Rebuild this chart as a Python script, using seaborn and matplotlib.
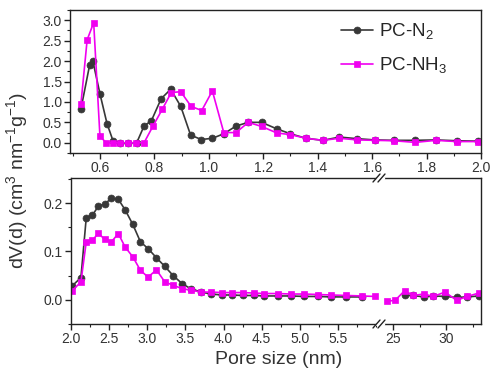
import matplotlib
matplotlib.use("Agg")
import matplotlib.pyplot as plt
from matplotlib.lines import Line2D
from matplotlib.ticker import MultipleLocator, FixedLocator
import seaborn as sns

# top panel (micropores)
n2_top_x = [0.53, 0.562, 0.574, 0.60, 0.626, 0.648, 0.672, 0.703, 0.735, 0.762, 0.789,
            0.825, 0.86, 0.897, 0.933, 0.972, 1.013, 1.055, 1.10, 1.145, 1.194, 1.25,
            1.30, 1.357, 1.419, 1.48, 1.546, 1.61, 1.68, 1.758, 1.835, 1.91, 1.99]
n2_top_y = [0.82, 1.90, 2.00, 1.20, 0.47, 0.05, 0.0, 0.0, 0.0, 0.41, 0.54,
            1.08, 1.31, 0.89, 0.19, 0.08, 0.11, 0.22, 0.41, 0.50, 0.50, 0.34,
            0.22, 0.11, 0.06, 0.14, 0.10, 0.07, 0.06, 0.06, 0.07, 0.05, 0.04]
nh3_top_x = [0.53, 0.553, 0.577, 0.60, 0.623, 0.648, 0.672, 0.703, 0.733, 0.762, 0.795,
             0.829, 0.862, 0.897, 0.935, 0.974, 1.013, 1.055, 1.10, 1.145, 1.194, 1.25,
             1.30, 1.357, 1.419, 1.48, 1.546, 1.61, 1.68, 1.758, 1.835, 1.91, 1.99]
nh3_top_y = [0.94, 2.52, 2.94, 0.16, 0.0, 0.0, 0.0, 0.0, 0.0, 0.0, 0.41,
             0.82, 1.23, 1.25, 0.89, 0.79, 1.27, 0.25, 0.25, 0.50, 0.40, 0.24,
             0.20, 0.11, 0.06, 0.11, 0.07, 0.06, 0.05, 0.01, 0.06, 0.03, 0.03]

# bottom panel, 2-6 nm part
meso_x = [2.01, 2.13, 2.20, 2.28, 2.36, 2.44, 2.53, 2.62, 2.71, 2.81, 2.91, 3.01,
          3.12, 3.23, 3.34, 3.46, 3.57, 3.71, 3.84, 3.98, 4.11, 4.25, 4.40, 4.53,
          4.71, 4.88, 5.06, 5.24, 5.41, 5.61, 5.81]
n2_meso_y = [0.028, 0.046, 0.170, 0.175, 0.194, 0.198, 0.210, 0.208, 0.186, 0.156,
             0.120, 0.106, 0.087, 0.069, 0.050, 0.033, 0.023, 0.016, 0.012, 0.010,
             0.010, 0.009, 0.009, 0.008, 0.008, 0.008, 0.007, 0.007, 0.006, 0.006,
             0.006]
nh3_meso_x = meso_x + [5.99]
nh3_meso_y = [0.018, 0.037, 0.120, 0.123, 0.138, 0.125, 0.120, 0.137, 0.109, 0.089,
              0.061, 0.047, 0.062, 0.037, 0.030, 0.023, 0.020, 0.016, 0.016, 0.015,
              0.015, 0.015, 0.014, 0.013, 0.013, 0.012, 0.012, 0.011, 0.010, 0.009,
              0.008, 0.007]

# bottom panel, 24-34 nm part
n2_far_x = [26.1, 26.9, 27.9, 28.8, 29.9, 31.0, 32.0, 33.1]
n2_far_y = [0.009, 0.009, 0.006, 0.008, 0.007, 0.005, 0.006, 0.008]
nh3_far_x = [24.4, 25.2, 26.1, 26.9, 27.9, 28.8, 29.9, 31.0, 32.0, 33.1]
nh3_far_y = [-0.003, -0.001, 0.019, 0.009, 0.012, 0.007, 0.016, -0.001, 0.007, 0.014]

meso_major_ticks = [2.0, 2.5, 3.0, 3.5, 4.0, 4.5, 5.0, 5.5]

GREY = "#383838"
MAGENTA = "#f000f0"

sns.set_style("ticks")
plt.rcParams["font.family"] = ["Liberation Sans", "DejaVu Sans"]
plt.rcParams["mathtext.fontset"] = "custom"
plt.rcParams["mathtext.rm"] = "Liberation Sans"
plt.rcParams["mathtext.it"] = "Liberation Sans:italic"
plt.rcParams["axes.linewidth"] = 1.0
plt.rcParams["axes.edgecolor"] = "#222222"
plt.rcParams["xtick.color"] = "#222222"
plt.rcParams["ytick.color"] = "#222222"
plt.rcParams["xtick.labelcolor"] = "#333333"
plt.rcParams["ytick.labelcolor"] = "#333333"

W, H = 491, 374
fig = plt.figure(figsize=(W / 100, H / 100), dpi=100)


def px_axes(l, t, r, b):
    return fig.add_axes([l / W, 1 - b / H, (r - l) / W, (b - t) / H])


ax_top = px_axes(70, 10, 481, 153)
ax_bl = px_axes(71, 178, 380, 324)
ax_br = px_axes(380, 178, 481, 324)

n2_style = dict(color=GREY, marker="o", markersize=5, linewidth=1.2,
                markeredgecolor=GREY, markeredgewidth=0.5)
nh3_style = dict(color=MAGENTA, marker="s", markersize=5, linewidth=1.2,
                 markeredgecolor=MAGENTA, markeredgewidth=0.5)

sns.lineplot(x=n2_top_x, y=n2_top_y, ax=ax_top, label="PC-N$_2$", **n2_style)
sns.lineplot(x=nh3_top_x, y=nh3_top_y, ax=ax_top, label="PC-NH$_3$", **nh3_style)
sns.lineplot(x=meso_x, y=n2_meso_y, ax=ax_bl, **n2_style)
sns.lineplot(x=nh3_meso_x, y=nh3_meso_y, ax=ax_bl, **nh3_style)
sns.lineplot(x=n2_far_x, y=n2_far_y, ax=ax_br, **n2_style)
sns.lineplot(x=nh3_far_x, y=nh3_far_y, ax=ax_br, **nh3_style)

ax_top.set_xlim(0.49, 2.0)
ax_top.set_ylim(-0.25, 3.25)
ax_top.xaxis.set_major_locator(MultipleLocator(0.2))
ax_top.xaxis.set_minor_locator(MultipleLocator(0.1))
ax_top.yaxis.set_major_locator(MultipleLocator(0.5))
ax_top.yaxis.set_minor_locator(MultipleLocator(0.25))
ax_top.legend(loc="upper right", frameon=False, fontsize=13.5, handlelength=1.7,
              handletextpad=0.3, labelspacing=0.75, borderaxespad=0.2,
              bbox_to_anchor=(0.945, 1.0))

ax_bl.set_xlim(2.0, 6.05)
ax_br.set_xlim(23.77, 33.3)
for ax in (ax_bl, ax_br):
    ax.set_ylim(-0.05, 0.252)
    ax.yaxis.set_major_locator(MultipleLocator(0.1))
    ax.yaxis.set_minor_locator(MultipleLocator(0.05))
ax_bl.xaxis.set_major_locator(FixedLocator(meso_major_ticks))
ax_bl.xaxis.set_minor_locator(MultipleLocator(0.25))
ax_br.xaxis.set_major_locator(MultipleLocator(5))
ax_br.xaxis.set_minor_locator(MultipleLocator(2.5))
ax_bl.spines["right"].set_visible(False)
ax_br.spines["left"].set_visible(False)
ax_br.tick_params(axis="y", which="both", left=False, labelleft=False)

for ax in (ax_top, ax_bl, ax_br):
    ax.set_xlabel("")
    ax.set_ylabel("")
    ax.tick_params(which="major", length=4, width=1.0, labelsize=10, pad=2)
    ax.tick_params(which="minor", length=2.5, width=0.8)

# axis break marks on the lower panel
for yb in (178, 324):
    fig.add_artist(Line2D([377 / W, 383 / W], [1 - yb / H, 1 - yb / H],
                          transform=fig.transFigure, color="white", linewidth=2.5))
    for xb in (376.5, 381.5):
        fig.add_artist(Line2D([(xb - 3.5) / W, (xb + 3.5) / W],
                              [1 - (yb + 4) / H, 1 - (yb - 4) / H],
                              transform=fig.transFigure, color="#222222",
                              linewidth=1.0))

fig.text(17 / W, 1 - 181 / H, "dV(d) (cm$^3$ nm$^{-1}$g$^{-1}$)", rotation=90,
         ha="center", va="center", fontsize=14, color="#333333")
fig.text(279 / W, 1 - 360 / H, "Pore size (nm)", ha="center", va="center",
         fontsize=14, color="#333333")

fig.savefig("out.png", dpi=100)
